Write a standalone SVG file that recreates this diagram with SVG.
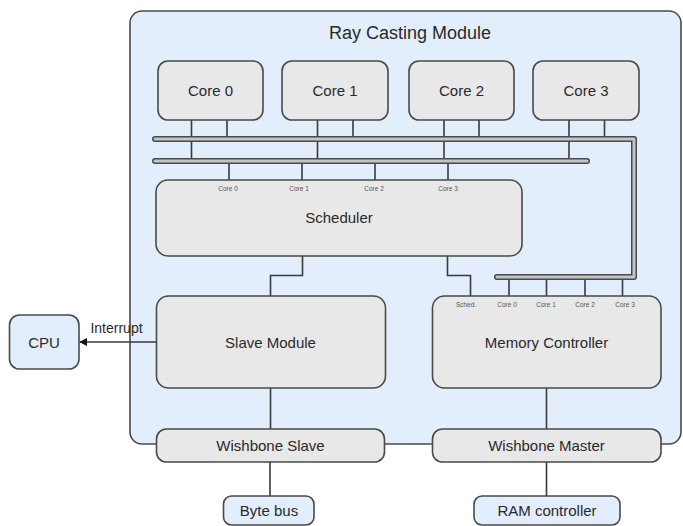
<svg xmlns="http://www.w3.org/2000/svg" width="683" height="526" viewBox="0 0 683 526">
<defs>
<style>
.node{fill:#E8E8E8;stroke:#4a4a4a;stroke-width:1.6}
.ext{fill:#E2EEFB;stroke:#4a4a4a;stroke-width:1.6}
.t{font-family:"Liberation Sans",Arial,sans-serif;fill:#2a2a2a;text-anchor:middle;dominant-baseline:central}
.lbl{font-size:15px}
.sm{font-family:"Liberation Sans",Arial,sans-serif;fill:#555;font-size:6.5px;text-anchor:middle;dominant-baseline:central}
.w{fill:none;stroke:#3a3a3a;stroke-width:1.6}
.busO{fill:none;stroke:#4a4a4a;stroke-width:6;stroke-linecap:round;stroke-linejoin:round}
.busI{fill:none;stroke:#c4c4c4;stroke-width:3;stroke-linecap:round;stroke-linejoin:round}
</style>
<marker id="arr" viewBox="0 0 10 10" refX="9" refY="5" markerWidth="8" markerHeight="8" orient="auto" markerUnits="userSpaceOnUse">
<path d="M0,0 L10,5 L0,10 z" fill="#111"/>
</marker>
</defs>
<rect width="683" height="526" fill="#ffffff"/>
<g id="ray-casting-module">
<rect x="130" y="11" width="551" height="433" rx="12" fill="#E2EEFB" stroke="#4a4a4a" stroke-width="1.6"/>
<text class="t" x="410" y="33" font-size="18">Ray Casting Module</text>
</g>
<g id="connectors">
<path class="w" d="M191.5 120V161M227 120V139M317.5 120V161M353 120V139M444 120V161M479 120V139M569 120V161M604.5 120V139"/>
<path class="w" d="M229 161V180M302 161V180M375 161V180M448 161V180"/>
<path class="w" d="M509 277V296M546.5 277V296M585 277V296M622.5 277V296"/>
<path class="w" d="M302.5 256V275.5H270.5V296M447.5 256V275.5H470.5V296"/>
<path class="w" d="M270.5 388V429M546.5 388V429M270 462V496M546.5 462V496"/>
<path class="w" d="M156.5 342H80" marker-end="url(#arr)"/>
<g id="buses">
<path class="busO" d="M155 139H634V277H497"/>
<path class="busI" d="M155 139H634V277H497"/>
<path class="busO" d="M155 161H587"/>
<path class="busI" d="M155 161H587"/>
</g>
<text x="116.5" y="328" font-family="'Liberation Sans',Arial,sans-serif" font-size="14" fill="#2a2a2a" text-anchor="middle" dominant-baseline="central">Interrupt</text>
</g>
<g id="core0"><rect class="node" x="158" y="61" width="105" height="59" rx="10"/><text class="t lbl" x="210.5" y="90">Core 0</text></g>
<g id="core1"><rect class="node" x="282" y="61" width="106" height="59" rx="10"/><text class="t lbl" x="335" y="90">Core 1</text></g>
<g id="core2"><rect class="node" x="409" y="61" width="105" height="59" rx="10"/><text class="t lbl" x="461.5" y="90">Core 2</text></g>
<g id="core3"><rect class="node" x="533" y="61" width="106" height="59" rx="10"/><text class="t lbl" x="586" y="90">Core 3</text></g>
<g id="scheduler">
<rect class="node" x="156" y="180" width="366" height="76" rx="12"/>
<text class="t lbl" x="339" y="217">Scheduler</text>
<text class="sm" x="228" y="188">Core 0</text>
<text class="sm" x="299" y="188">Core 1</text>
<text class="sm" x="374" y="188">Core 2</text>
<text class="sm" x="448" y="188">Core 3</text>
</g>
<g id="slave-module"><rect class="node" x="156.5" y="296" width="229" height="92" rx="12"/><text class="t lbl" x="270.5" y="342">Slave Module</text></g>
<g id="memory-controller">
<rect class="node" x="432.5" y="296" width="228.5" height="92" rx="12"/>
<text class="t lbl" x="546.5" y="342">Memory Controller</text>
<text class="sm" x="466" y="304">Sched.</text>
<text class="sm" x="507" y="304">Core 0</text>
<text class="sm" x="546" y="304">Core 1</text>
<text class="sm" x="585" y="304">Core 2</text>
<text class="sm" x="625" y="304">Core 3</text>
</g>
<g id="cpu"><rect class="ext" x="9.5" y="315" width="69.5" height="54" rx="10"/><text class="t lbl" x="44" y="342">CPU</text></g>
<g id="wishbone-slave"><rect class="node" x="156.5" y="429" width="228" height="33" rx="10"/><text class="t lbl" x="270.5" y="445.5">Wishbone Slave</text></g>
<g id="wishbone-master"><rect class="node" x="432.5" y="429" width="228.5" height="33" rx="10"/><text class="t lbl" x="546.5" y="445.5">Wishbone Master</text></g>
<g id="byte-bus"><rect class="ext" x="223.5" y="496" width="90.5" height="29" rx="8"/><text class="t lbl" x="269" y="510.5">Byte bus</text></g>
<g id="ram-controller"><rect class="ext" x="474" y="496" width="146" height="29" rx="8"/><text class="t lbl" x="547" y="510.5">RAM controller</text></g>
</svg>
